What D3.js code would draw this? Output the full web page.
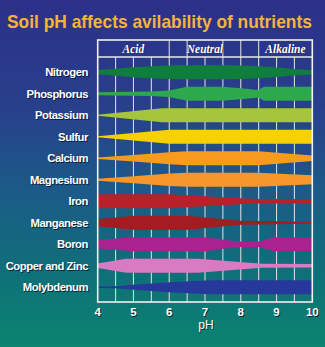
<!DOCTYPE html>
<html><head><meta charset="utf-8">
<script src="https://cdn.jsdelivr.net/npm/d3@7"></script>
<style>html,body{margin:0;padding:0;background:#1a4d88;}svg{display:block;}</style>
</head><body>
<script>
const title = "Soil pH affects avilability of nutrients";
const nutrients = ["Nitrogen","Phosphorus","Potassium","Sulfur","Calcium","Magnesium","Iron","Manganese","Boron","Copper and Zinc","Molybdenum"];
const bandColors = ["#0f7d3c","#2ea84c","#a6c53c","#f8d000","#f79a1e","#f7962a","#b8202a","#a21c22","#a8238e","#d97bc2","#26399a"];
const phTicks = [4,5,6,7,8,9,10];
const zones = ["Acid","","Neutral","","","Alkaline"];
const zoneBounds = [4,6,6.5,7.5,8,8.5,10];

// relative availability (0..1) at pH breakpoints
const nitrogen   = [[4,0.3],[4.5,0.5],[5,0.7],[5.5,0.87],[6,0.97],[6.5,1],[7.5,1],[8,0.97],[8.5,0.87],[9,0.68],[9.5,0.48],[10,0.28]];
const phosphorus = [[4,0.2],[5,0.27],[5.5,0.33],[6,0.46],[6.5,1],[7.5,1],[8,0.8],[8.5,0.55],[8.65,1],[10,1]];
const potassium  = [[4,0.08],[5.8,1],[10,1]];
const sulfur     = [[4,0.08],[6,1],[10,1]];
const calcium    = [[4,0.1],[5,0.47],[6,0.86],[6.5,1],[8.5,1],[10,0.4]];
const magnesium  = [[4,0.15],[5,0.5],[6,0.88],[6.5,1],[8.5,1],[10,0.65]];
const iron       = [[4,1],[6,1],[8,0.42],[8.5,0.32],[10,0.32]];
const manganese  = [[4,0.5],[5,1],[6.5,1],[8,0.3],[9,0.2],[10,0.12]];
const boron      = [[4,0.6],[5,1],[7,1],[7.9,0.38],[8.5,0.38],[8.95,1],[10,1]];
const copperZinc = [[4,0.33],[4.8,1],[6.8,1],[8.6,0.28],[10,0.25]];
const molybdenum = [[4,0.12],[4.5,0.16],[5,0.35],[6,0.72],[7,0.98],[7.3,1],[10,1]];
const series = [nitrogen,phosphorus,potassium,sulfur,calcium,magnesium,iron,manganese,boron,copperZinc,molybdenum];

const W = 325, H = 347;
const svg = d3.select("body").append("svg").attr("width",W).attr("height",H);
const defs = svg.append("defs");
const g = defs.append("linearGradient").attr("id","bg").attr("x1",0).attr("y1",0).attr("x2",0).attr("y2",1);
[[0,"#2c3088"],[0.3,"#283f8b"],[0.55,"#1c5a88"],[0.8,"#0e7178"],[1,"#0b8470"]].forEach(([o,c])=>g.append("stop").attr("offset",o).attr("stop-color",c));
svg.append("rect").attr("width",W).attr("height",H).attr("fill","url(#bg)");

const x = d3.scaleLinear().domain([4,10]).range([97.7,312.3]);
const y = d3.scaleBand().domain(nutrients).range([61.5,298]);
const t = d3.scaleLinear().domain([0,1]).range([0,7]);
const frameTop = 40, headerBottom = 57, frameBottom = 302;

function shadowText(sel, txt, attrs, shadowOff=1){
  const grp = sel.append("g");
  const s = grp.append("text").text(txt).attr("fill","#0b0b20").attr("opacity",0.75).attr("transform",`translate(${shadowOff},${shadowOff})`);
  const m = grp.append("text").text(txt).attr("fill","#fff");
  for (const k in attrs){ s.attr(k,attrs[k]); m.attr(k,attrs[k]); }
  return grp;
}

// title, horizontally condensed to span the reference width
const titleG = svg.append("g");
const titleT = titleG.append("text").text(title).attr("x",0).attr("y",0)
  .attr("font-family","Liberation Sans, Arial, sans-serif").attr("font-weight","bold").attr("font-size",18.5)
  .attr("fill","#f6b23c");
const tw = titleT.node().getComputedTextLength();
titleG.attr("transform",`translate(7,27.5) scale(${305/tw},1)`);

// grid lines (every 0.5 pH)
const gridVals = d3.range(4.5,10,0.5);
svg.append("g").selectAll("line").data(gridVals).join("line")
  .attr("x1",d=>x(d)).attr("x2",d=>x(d)).attr("y1",headerBottom).attr("y2",frameBottom)
  .attr("stroke","#d6d6d6").attr("stroke-width",1.1);

// header dividers
svg.append("g").selectAll("line").data(zoneBounds.slice(1,-1)).join("line")
  .attr("x1",d=>x(d)).attr("x2",d=>x(d)).attr("y1",frameTop).attr("y2",headerBottom)
  .attr("stroke","#d6d6d6").attr("stroke-width",1.1);
svg.append("line").attr("x1",x(4)).attr("x2",x(10)).attr("y1",headerBottom).attr("y2",headerBottom)
  .attr("stroke","#e8e8e8").attr("stroke-width",1.3);

// zone labels
zones.forEach((z,i)=>{
  if(!z) return;
  const cx = (x(zoneBounds[i])+x(zoneBounds[i+1]))/2;
  shadowText(svg, z, {x:cx, y:52.5, "text-anchor":"middle", "font-family":"Liberation Serif, Times New Roman, serif",
    "font-style":"italic","font-weight":"bold","font-size":11.5}, 0.8);
});

// bands
series.forEach((s,i)=>{
  const cy = y(nutrients[i]) + y.bandwidth()/2;
  const a = d3.area().x(d=>x(d[0])).y0(d=>cy - t(d[1])).y1(d=>cy + t(d[1]))
    .curve(i===0 ? d3.curveMonotoneX : d3.curveLinear);
  svg.append("path").attr("d",a(s)).attr("fill",bandColors[i]);
});

// frame
svg.append("rect").attr("x",x(4)).attr("y",frameTop).attr("width",x(10)-x(4)).attr("height",frameBottom-frameTop)
  .attr("fill","none").attr("stroke","#f2f2f2").attr("stroke-width",1.6);

// y labels
nutrients.forEach(n=>{
  shadowText(svg, n, {x:88, y:y(n)+y.bandwidth()/2+4, "text-anchor":"end",
    "font-family":"Liberation Sans, Arial, sans-serif","font-weight":"bold","font-size":11.3,"letter-spacing":-0.45});
});

// x tick labels
phTicks.forEach(p=>{
  shadowText(svg, String(p), {x:x(p), y:316, "text-anchor":"middle",
    "font-family":"Liberation Sans, Arial, sans-serif","font-weight":"bold","font-size":11.5});
});
shadowText(svg, "pH", {x:206, y:328.8, "text-anchor":"middle",
  "font-family":"Liberation Sans, Arial, sans-serif","font-weight":"normal","font-size":12});
</script>
</body></html>
